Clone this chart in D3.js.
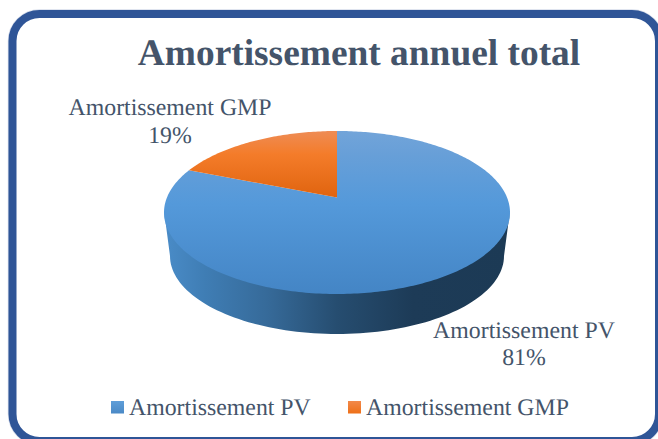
<!DOCTYPE html>
<html><head><meta charset="utf-8">
<script src="https://cdn.jsdelivr.net/npm/d3@7"></script>
<style>html,body{margin:0;padding:0;background:#fff;overflow:hidden}svg{display:block}text{font-family:"Liberation Serif",serif;fill:#44546a;text-rendering:geometricPrecision}</style>
</head><body><svg id="c" width="658" height="439"></svg>
<script>
const chartTitle = "Amortissement annuel total";
const categories = ["Amortissement PV", "Amortissement GMP"];
const values = [81, 19];
const percentLabels = ["81%", "19%"];

const svg = d3.select("#c");
const defs = svg.append("defs");
function grad(id, stops, x1, y1, x2, y2, user) {
  const g = defs.append("linearGradient").attr("id", id)
    .attr("x1", x1).attr("y1", y1).attr("x2", x2).attr("y2", y2);
  if (user) g.attr("gradientUnits", "userSpaceOnUse");
  stops.forEach(s => g.append("stop").attr("offset", s[0]).attr("stop-color", s[1]));
}
const top3d = {cx: 337, cy: 212.5, rx: 173, ry: 81.5, tilt: -0.184};
const bottom3d = {cx: 337, cy: 256, rx: 167, ry: 78};

grad("blueTop", [[0, "#72a4d9"], [0.15, "#679fd8"], [0.45, "#5499da"], [1, "#4485c5"]], 0, top3d.cy - top3d.ry, 0, top3d.cy + top3d.ry, true);
grad("orangeTop", [[0, "#ee8c55"], [0.35, "#f47c2a"], [1, "#e0640f"]], 0, top3d.cy - top3d.ry, 0, 197, true);
grad("side", [[0, "#4a8cc8"], [0.12, "#3f7db4"], [0.3, "#366a99"], [0.5, "#264d70"], [0.72, "#1d3b57"], [1, "#1c3a55"]], 164, 0, 510, 0, true);
grad("swBlue", [[0, "#5f9ed9"], [1, "#4a89c6"]], 0, 0, 0, 1);
grad("swOrange", [[0, "#f2894a"], [1, "#ee7018"]], 0, 0, 0, 1);

// frame
svg.append("rect").attr("x", 12.5).attr("y", 14).attr("width", 646.5).attr("height", 427)
  .attr("rx", 27).attr("ry", 27).attr("fill", "#fff").attr("stroke", "#d5dcea").attr("stroke-width", 9.5);
svg.append("rect").attr("x", 12.5).attr("y", 14).attr("width", 646.5).attr("height", 427)
  .attr("rx", 27).attr("ry", 27).attr("fill", "#fff").attr("stroke", "#2f5597").attr("stroke-width", 8);

// title
svg.append("text").attr("x", 359).attr("y", 65).attr("text-anchor", "middle")
  .attr("font-size", 37.4).attr("font-weight", "bold").text(chartTitle);

// perspective disc: pie angle → screen point
function project(a, r = 1) {
  const t = top3d.tilt, u = r * Math.sin(a), v = -r * Math.cos(a), d = 1 + t * v;
  return [top3d.cx + top3d.rx * u * Math.sqrt(1 - t * t) / d, top3d.cy + top3d.ry * (v + t) / d];
}
const slices = d3.pie().sort(null).startAngle(0).endAngle(2 * Math.PI)(values);
const fillId = ["url(#blueTop)", "url(#orangeTop)"];
const line = d3.line();

// side wall, along the front half of the two rims (upper rim tucked under the top face)
const frontN = 90;
const frontTop = d3.range(frontN + 1).map(i => {
  const p = Math.PI * i / frontN;
  return [top3d.cx + top3d.rx * Math.cos(p), top3d.cy - 2 + top3d.ry * Math.sin(p)];
});
const frontBottom = d3.range(frontN + 1).map(i => {
  const p = Math.PI * i / frontN;
  return [bottom3d.cx + bottom3d.rx * Math.cos(p), bottom3d.cy + bottom3d.ry * Math.sin(p)];
}).reverse();
svg.append("path").attr("d", line(frontTop.concat(frontBottom)) + "Z").attr("fill", "url(#side)");

// top face
svg.append("g").selectAll("path").data(slices).join("path")
  .attr("fill", (d, i) => fillId[i])
  .attr("d", d => {
    const n = Math.max(2, Math.ceil((d.endAngle - d.startAngle) * 60));
    const rim = d3.range(n + 1).map(i => project(d.startAngle + (d.endAngle - d.startAngle) * i / n));
    return line([project(0, 0), ...rim]) + "Z";
  });

// data labels
const labelPos = [{x: 524, y1: 338, y2: 365}, {x: 170, y1: 115, y2: 143}];
categories.forEach((c, i) => {
  svg.append("text").attr("x", labelPos[i].x).attr("y", labelPos[i].y1).attr("text-anchor", "middle").attr("font-size", 23.8).text(c);
  svg.append("text").attr("x", labelPos[i].x).attr("y", labelPos[i].y2).attr("text-anchor", "middle").attr("font-size", 23.8).text(percentLabels[i]);
});

// legend
const legendX = [111, 348], swatch = ["url(#swBlue)", "url(#swOrange)"];
categories.forEach((c, i) => {
  svg.append("rect").attr("x", legendX[i]).attr("y", 401).attr("width", 13).attr("height", 12.5).attr("fill", swatch[i]);
  svg.append("text").attr("x", legendX[i] + 18).attr("y", 415).attr("font-size", 23.8).text(c);
});
</script></body></html>
